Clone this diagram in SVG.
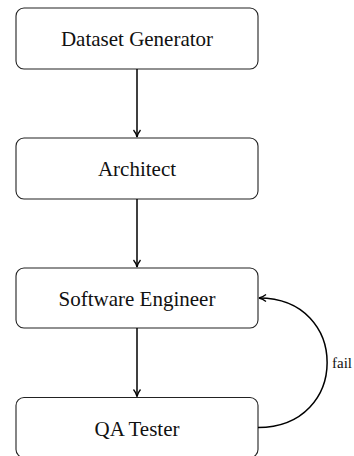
<svg xmlns="http://www.w3.org/2000/svg" width="354" height="456" viewBox="0 0 354 456">
<defs>
<style>
.box{fill:#fff;stroke:#222;stroke-width:1.1}
.edge{fill:none;stroke:#000;stroke-width:1.5}
</style>
<marker id="ah" viewBox="0 0 10 10" refX="9" refY="5" markerWidth="10" markerHeight="10" markerUnits="userSpaceOnUse" orient="auto">
<path d="M2,1.5 Q5,4 9,5 Q5,6 2,8.5" fill="none" stroke="#000" stroke-width="1.3"/>
</marker>
</defs>
<rect width="354" height="456" fill="#fff"/>
<g font-family="'Liberation Serif', 'Times New Roman', serif" font-size="21" fill="#111" text-anchor="middle">
<g id="n1"><rect class="box" x="16" y="8" width="242" height="61" rx="8"/><text x="137" y="46">Dataset Generator</text></g>
<g id="n2"><rect class="box" x="16" y="138" width="242" height="61" rx="8"/><text x="137" y="176">Architect</text></g>
<g id="n3"><rect class="box" x="16" y="268" width="242" height="60" rx="8"/><text x="137" y="305.5">Software Engineer</text></g>
<g id="n4"><rect class="box" x="16" y="397.5" width="242" height="60" rx="8"/><text x="137" y="435.5">QA Tester</text></g>
</g>
<g id="edges">
<path class="edge" d="M137,69 V137" marker-end="url(#ah)"/>
<path class="edge" d="M137,199 V267" marker-end="url(#ah)"/>
<path class="edge" d="M137,328 V396.5" marker-end="url(#ah)"/>
<path class="edge" d="M258,427.5 C350,427.5 350,298 259,298" marker-end="url(#ah)"/>
<text x="332" y="368" font-family="'Liberation Serif', 'Times New Roman', serif" font-size="15" fill="#111">fail</text>
</g>
</svg>
